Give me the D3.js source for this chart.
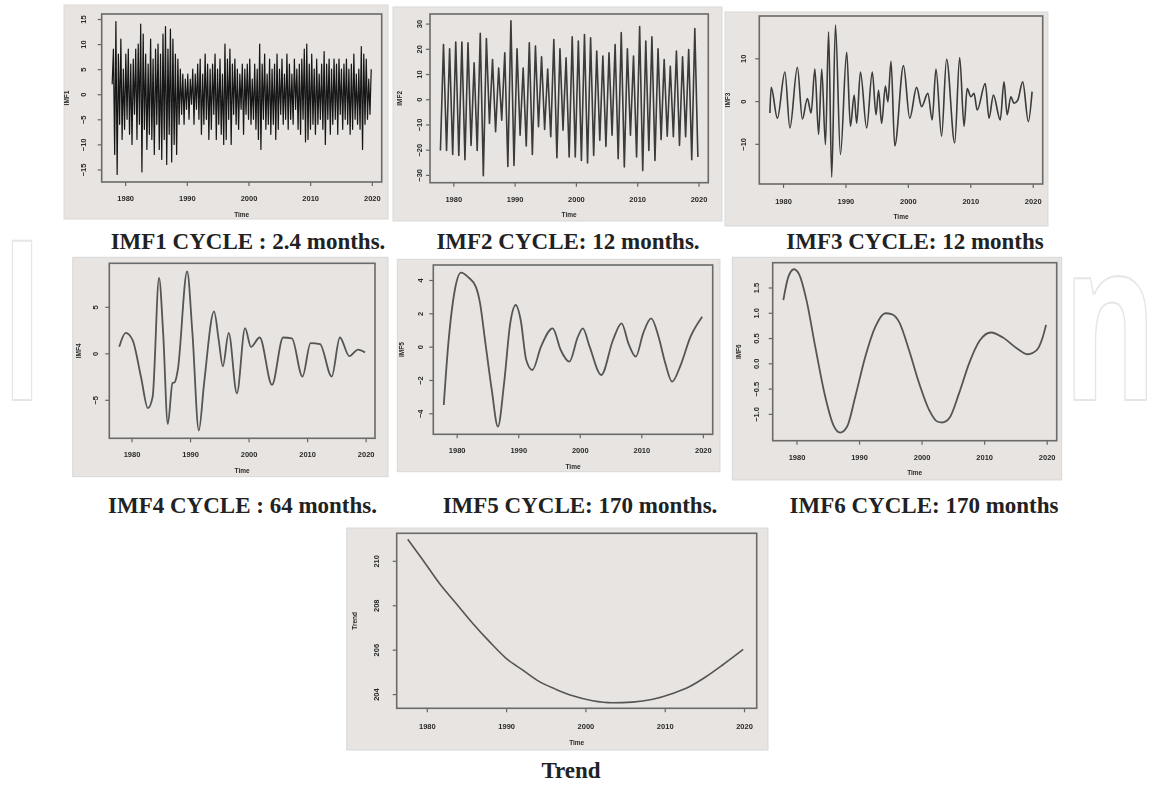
<!DOCTYPE html>
<html>
<head>
<meta charset="utf-8">
<script src="https://cdn.jsdelivr.net/npm/d3@7"></script>
<style>
  body { margin: 0; background: #fff; }
  svg { display: block; }
</style>
</head>
<body>
<svg id="fig" width="1161" height="787"></svg>
<script>
// ---- data ----
const yearTicks = [1980, 1990, 2000, 2010, 2020];
const tStart = 1977.9, tEnd = 2019.9;   // monthly series span

// IMF1: successive extremes (evenly spaced in time)
const imf1 = [
  2, 9, -12, 14.5, -16, 8, -6, 11, -9, 5,
  -7, 8, -5, 9, -8, 6, -10, 7, -4, 9,
  -9, 10, -6, 14, -15.5, 12, -7, 8, -11, 6,
  -8, 11, -9, 7, -12, 9, -6, 10, -11, 8,
  -13, 12, -9, 13.5, -14, 9, -8, 13, -13.5, 11,
  -10, 8, -12, 7, -6, 5, -4, 4, -6, 3,
  -3, 4, -5, 3, -2, 5, -6, 4, -3, 6,
  -5, 7, -8, 4, -6, 8, -5, 6, -9, 5,
  -7, 6, -4, 8, -9, 5, -6, 7, -8, 4,
  -10, 10, -9, 7, -5, 9, -10, 6, -4, 7,
  -6, 5, -7, 4, -3, 6, -8, 5, -4, 6,
  -5, 7, -6, 3, -5, 6, -7, 5, -9, 10,
  -11, 6, -5, 8, -7, 4, -6, 7, -8, 5,
  -6, 6, -9, 8, -7, 5, -4, 7, -6, 4,
  -5, 8, -7, 6, -5, 4, -6, 7, -3, 5,
  -7, 6, -8, 7, -5, 9, -9.5, 10, -9, 6,
  -7, 8, -6, 5, -8, 7, -6, 4, -5, 6,
  -7, 8.5, -10, 6, -5, 7, -8, 5, -6, 7,
  -5, 6, -8, 7, -4, 5, -7, 6, -5, 7,
  -6, 5, -8, 6, -7, 8, -5, 4, -6, 5,
  -7, 9.5, -11, 8, -6, 7, -5, 3, -4, 5
];

// IMF2: successive extremes (evenly spaced in time)
const imf2 = [
  -20.3, 21.7, -20.3, 20.0, -21.9, 22.7, -22.3, 22.7, -24.0, 22.4,
  -18.3, 14.4, -20.3, 26.1, -30.3, 24.1, -9.6, 15.7, -12.9, 12.4,
  -8.3, 18.4, -26.7, 31.1, -26.3, 20.0, -14.3, 12.4, -18.5, 22.4,
  -21.9, 21.1, -10.9, 16.8, -12.0, 12.0, -14.9, 23.7, -23.2, 20.0,
  -12.3, 16.4, -22.9, 24.8, -22.9, 23.1, -24.3, 25.7, -25.3, 24.4,
  -22.3, 19.1, -16.3, 17.1, -18.7, 18.4, -14.3, 21.7, -23.6, 26.4,
  -26.9, 20.0, -14.3, 17.1, -22.9, 28.8, -28.3, 23.1, -20.3, 24.8,
  -24.3, 20.0, -16.0, 15.7, -14.7, 13.1, -14.9, 19.1, -18.3, 16.8,
  -14.9, 19.7, -24.0, 28.0, -22.9
];

const imf3Year = [1977.9, 1978.1, 1979.1, 1980.3, 1981.1, 1982.3, 1983.1, 1983.9, 1984.5, 1985.1,
  1985.7, 1986.2, 1986.8, 1987.3, 1987.8, 1988.4, 1989.2, 1990.2, 1990.8, 1991.4,
  1991.8, 1992.4, 1993.4, 1994.3, 1994.9, 1995.3, 1995.8, 1996.4, 1996.8, 1997.3,
  1997.9, 1999.3, 2000.3, 2001.4, 2002.2, 2003.2, 2003.9, 2004.5, 2005.4, 2006.2,
  2007.5, 2008.3, 2009.0, 2009.5, 2010.1, 2010.6, 2011.1, 2012.4, 2013.0, 2013.7,
  2014.8, 2015.4, 2015.9, 2016.5, 2017.0, 2017.6, 2018.4, 2019.3, 2019.9];
const imf3 = [-2.8, 3.2, -4.0, 6.8, -6.3, 7.9, -4.2, 0.6, -2.8, 7.5,
  -7.8, 7.5, -10.2, 16.2, -17.8, 17.8, -12.5, 11.4, -5.9, 1.4,
  -5.2, 6.8, -6.3, 6.8, -3.2, 2.5, -5.2, 3.5, -0.2, 9.3,
  -10.5, 8.3, -4.0, 3.2, -1.3, 1.8, -4.4, 7.5, -8.2, 9.8,
  -9.8, 10.2, -5.9, 2.9, 1.0, 1.8, -2.1, 4.1, -4.0, 1.4,
  -4.4, 4.5, -3.2, 1.0, -0.5, 0.2, 4.5, -4.8, 2.2];

const imf4Year = [1977.9, 1979.0, 1980.2, 1981.6, 1982.8, 1983.6, 1984.7, 1985.4, 1986.2, 1987.0,
  1987.4, 1987.9, 1989.5, 1990.4, 1991.5, 1992.4, 1994.1, 1994.9, 1995.6, 1996.6,
  1998.0, 1999.4, 2000.4, 2001.9, 2004.0, 2005.9, 2007.4, 2009.2, 2010.6, 2012.2,
  2014.2, 2015.6, 2017.2, 2018.7, 2019.9];
const imf4 = [0.7, 2.2, 1.4, -2.5, -5.9, -4.7, 8.1, 2.2, -7.6, -3.2,
  -3.1, -1.8, 8.8, 2.2, -8.3, -3.2, 4.5, 1.4, -1.4, 2.2,
  -4.3, 2.7, 0.7, 1.7, -3.4, 1.7, 1.6, -2.5, 1.1, 1.0,
  -2.5, 1.7, -0.3, 0.4, 0.1];

const imf5Year = [1977.9, 1978.6, 1979.7, 1980.7, 1981.9, 1983.1, 1983.8, 1984.6, 1985.7, 1986.7,
  1987.7, 1988.7, 1989.6, 1990.4, 1991.3, 1992.3, 1993.7, 1995.6, 1996.9, 1998.3,
  1999.7, 2000.5, 2001.6, 2003.5, 2005.4, 2006.8, 2007.9, 2009.1, 2010.3, 2011.6,
  2012.8, 2013.9, 2015.0, 2016.3, 2018.0, 2019.9];
const imf5 = [-3.5, 0.0, 3.4, 4.44, 4.16, 3.6, 2.6, 0.4, -2.6, -4.8,
  -2.2, 1.4, 2.5, 1.6, -0.8, -1.4, 0.0, 1.1, -0.2, -0.9,
  0.6, 1.1, 0.0, -1.7, 0.4, 1.4, 0.2, -0.6, 0.8, 1.7,
  0.6, -1.0, -2.1, -1.2, 0.6, 1.8];

const imf6Year = [1977.9, 1978.7, 1979.6, 1980.5, 1981.6, 1983.0, 1984.6, 1985.9, 1987.0, 1988.1,
  1989.4, 1991.0, 1992.6, 1994.2, 1995.3, 1996.4, 1998.0, 1999.6, 2001.2, 2002.5,
  2003.3, 2004.4, 2006.0, 2007.6, 2009.3, 2011.1, 2013.0, 2015.2, 2017.0, 2018.4,
  2019.3, 2019.9];
const imf6 = [1.25, 1.71, 1.86, 1.74, 1.25, 0.33, -0.66, -1.22, -1.37, -1.25,
  -0.66, 0.13, 0.72, 0.99, 0.97, 0.82, 0.26, -0.39, -0.92, -1.15,
  -1.17, -1.09, -0.59, 0.0, 0.45, 0.61, 0.51, 0.30, 0.18, 0.26,
  0.49, 0.76];

const trendYear = [1977.6, 1979.5, 1981.6, 1983.7, 1985.8, 1987.9, 1990.0, 1992.1, 1994.2, 1996.3,
  1998.4, 2000.9, 2003.4, 2005.9, 2008.5, 2011.0, 2013.1, 2015.2, 2017.3, 2019.9];
const trend = [210.97, 210.04, 208.98, 208.08, 207.18, 206.36, 205.61, 205.08, 204.56, 204.21,
  203.92, 203.70, 203.61, 203.64, 203.77, 204.03, 204.33, 204.78, 205.31, 206.01];

const titles = ['IMF1 CYCLE : 2.4 months.', 'IMF2 CYCLE: 12 months.', 'IMF3 CYCLE: 12 months',
  'IMF4 CYCLE : 64 months.', 'IMF5 CYCLE: 170 months.', 'IMF6 CYCLE: 170 months', 'Trend'];
const yNames = ['IMF1', 'IMF2', 'IMF3', 'IMF4', 'IMF5', 'IMF6', 'Trend'];

// ---- helpers ----
function evenSeries(vals) {
  var step = (tEnd - tStart) / (vals.length - 1);
  return vals.map((v, i) => [tStart + i * step, v]);
}
function pairSeries(xs, vs) { return xs.map((t, i) => [t, vs[i]]); }

const xlim = [1976.2, 2021.6];

// layout: bg box, plot frame (x0,y0,x1,y1), label offsets
const panels = [
  {series: evenSeries(imf1), ylim: [-17.5, 16], yticks: [-15, -10, -5, 0, 5, 10, 15], fmt: 'd',
   bg: [64, 5, 388, 219], frame: [101.7, 14, 381.7, 182], ylab: 18, ytit: 35, xlab: 10, xtit: 33,
   tx: 248, ty: 249, lw: 1.2, col: '#141414', curve: d3.curveLinear},
  {series: evenSeries(imf2), ylim: [-33.1, 33.8], yticks: [-30, -20, -10, 0, 10, 20, 30], fmt: 'd',
   bg: [393, 7, 722, 221], frame: [430, 14, 708.3, 182.7], ylab: 11, ytit: 30, xlab: 10, xtit: 32,
   tx: 568, ty: 249, lw: 1.6, col: '#3a3a3a', curve: d3.curveLinear},
  {series: pairSeries(imf3Year, imf3), ylim: [-19.4, 19.9], yticks: [-10, 0, 10], fmt: 'd',
   bg: [725, 12, 1048, 226], frame: [759.3, 16, 1042.7, 184], ylab: 16, ytit: 32, xlab: 11, xtit: 33,
   tx: 915, ty: 249, lw: 1.6, col: '#3a3a3a', curve: d3.curveMonotoneX},
  {series: pairSeries(imf4Year, imf4), ylim: [-9.14, 9.68], yticks: [-5, 0, 5], fmt: 'd',
   bg: [72.7, 257.3, 388, 476.7], frame: [109.3, 263.3, 375, 438.3], ylab: 14, ytit: 31, xlab: 9.5, xtit: 32,
   tx: 242.5, ty: 513, lw: 1.8, col: '#555', curve: d3.curveMonotoneX},
  {series: pairSeries(imf5Year, imf5), ylim: [-5.26, 4.9], yticks: [-4, -2, 0, 2, 4], fmt: 'd',
   bg: [397.3, 259.3, 720, 471.7], frame: [433.3, 265, 712.7, 434.3], ylab: 13, ytit: 31.5, xlab: 9, xtit: 32,
   tx: 580, ty: 513, lw: 1.8, col: '#555', curve: d3.curveMonotoneX},
  {series: pairSeries(imf6Year, imf6), ylim: [-1.53, 1.99], yticks: [-1, -0.5, 0, 0.5, 1, 1.5], fmt: '.1f',
   bg: [732.3, 257.3, 1061.7, 480], frame: [772.7, 262.7, 1056.7, 440.7], ylab: 16, ytit: 34, xlab: 10, xtit: 32,
   tx: 924, ty: 513, lw: 1.8, col: '#555', curve: d3.curveMonotoneX},
  {series: pairSeries(trendYear, trend), ylim: [203.36, 211.24], yticks: [204, 206, 208, 210], fmt: 'd',
   bg: [346.7, 528, 768, 750], frame: [396.7, 533.3, 756.7, 708.3], ylab: 20.5, ytit: 41.5, xlab: 11.5, xtit: 34.5,
   tx: 571, ty: 778, lw: 1.6, col: '#555', curve: d3.curveMonotoneX}
];

const svg = d3.select('#fig');
svg.append('rect').attr('width', 1161).attr('height', 787).attr('fill', '#fff');
svg.append('defs').append('filter').attr('id', 'soft')
  .append('feGaussianBlur').attr('stdDeviation', 0.4);

// faint publisher watermark: only the outer letters show past the panels
[{t: 'I', x: 1, len: 42}, {t: 'n', x: 1063, len: 94}].forEach(function(w) {
  svg.append('text')
    .attr('x', w.x).attr('y', 400)
    .attr('textLength', w.len).attr('lengthAdjust', 'spacingAndGlyphs')
    .style('font-family', 'Open Sans').style('font-size', '222px').style('font-weight', 700)
    .attr('fill', 'none').attr('stroke', '#e6e6e6').attr('stroke-width', 2)
    .text(w.t);
});

panels.forEach(function(p, k) {
  var g = svg.append('g');
  g.append('rect')
    .attr('x', p.bg[0]).attr('y', p.bg[1])
    .attr('width', p.bg[2] - p.bg[0]).attr('height', p.bg[3] - p.bg[1])
    .attr('fill', '#e7e4e1').attr('stroke', '#d9d9d9');

  var inner = g.append('g').attr('filter', 'url(#soft)');
  var x = d3.scaleLinear().domain(xlim).range([p.frame[0], p.frame[2]]);
  var y = d3.scaleLinear().domain(p.ylim).range([p.frame[3], p.frame[1]]);

  var line = d3.line().x(d => x(d[0])).y(d => y(d[1])).curve(p.curve);
  inner.append('path').datum(p.series)
    .attr('d', line)
    .attr('fill', 'none')
    .attr('stroke', p.col)
    .attr('stroke-width', p.lw)
    .attr('stroke-linejoin', 'round');

  var xa = inner.append('g')
    .attr('transform', 'translate(0,' + p.frame[3] + ')')
    .call(d3.axisBottom(x).tickValues(yearTicks).tickSize(4).tickPadding(p.xlab).tickFormat(d3.format('d')));
  var ya = inner.append('g')
    .attr('transform', 'translate(' + p.frame[0] + ',0)')
    .call(d3.axisLeft(y).tickValues(p.yticks).tickSize(4).tickFormat(d3.format(p.fmt)));
  [xa, ya].forEach(a => {
    a.select('.domain').remove();
    a.selectAll('line').attr('stroke', '#666').attr('stroke-width', 1.2);
    a.selectAll('text').attr('fill', '#2a2a2a')
      .style('font-family', 'Liberation Sans').style('font-size', '7.5px').style('font-weight', 'bold');
  });
  ya.selectAll('text')
    .attr('transform', 'rotate(-90)')
    .attr('x', 0).attr('y', -p.ylab).attr('dy', '0.35em')
    .attr('text-anchor', 'middle');

  inner.append('rect')
    .attr('x', p.frame[0]).attr('y', p.frame[1])
    .attr('width', p.frame[2] - p.frame[0]).attr('height', p.frame[3] - p.frame[1])
    .attr('fill', 'none').attr('stroke', '#6a6a6a').attr('stroke-width', 1.6);

  inner.append('text')
    .attr('x', (p.frame[0] + p.frame[2]) / 2).attr('y', p.frame[3] + p.xtit)
    .attr('text-anchor', 'middle').attr('dy', '0.35em')
    .style('font-family', 'Liberation Sans').style('font-size', '6.5px').style('font-weight', 'bold')
    .attr('fill', '#2a2a2a').text('Time');
  inner.append('text')
    .attr('transform', 'translate(' + (p.frame[0] - p.ytit) + ',' + (p.frame[1] + p.frame[3]) / 2 + ') rotate(-90)')
    .attr('text-anchor', 'middle').attr('dy', '0.35em')
    .style('font-family', 'Liberation Sans').style('font-size', '6.5px').style('font-weight', 'bold')
    .attr('fill', '#2a2a2a').text(yNames[k]);

  svg.append('text')
    .attr('x', p.tx).attr('y', p.ty)
    .attr('text-anchor', 'middle')
    .style('font-family', 'Liberation Serif').style('font-size', '23px').style('font-weight', 'bold')
    .attr('fill', '#222')
    .text(titles[k]);
});
</script>
</body>
</html>
